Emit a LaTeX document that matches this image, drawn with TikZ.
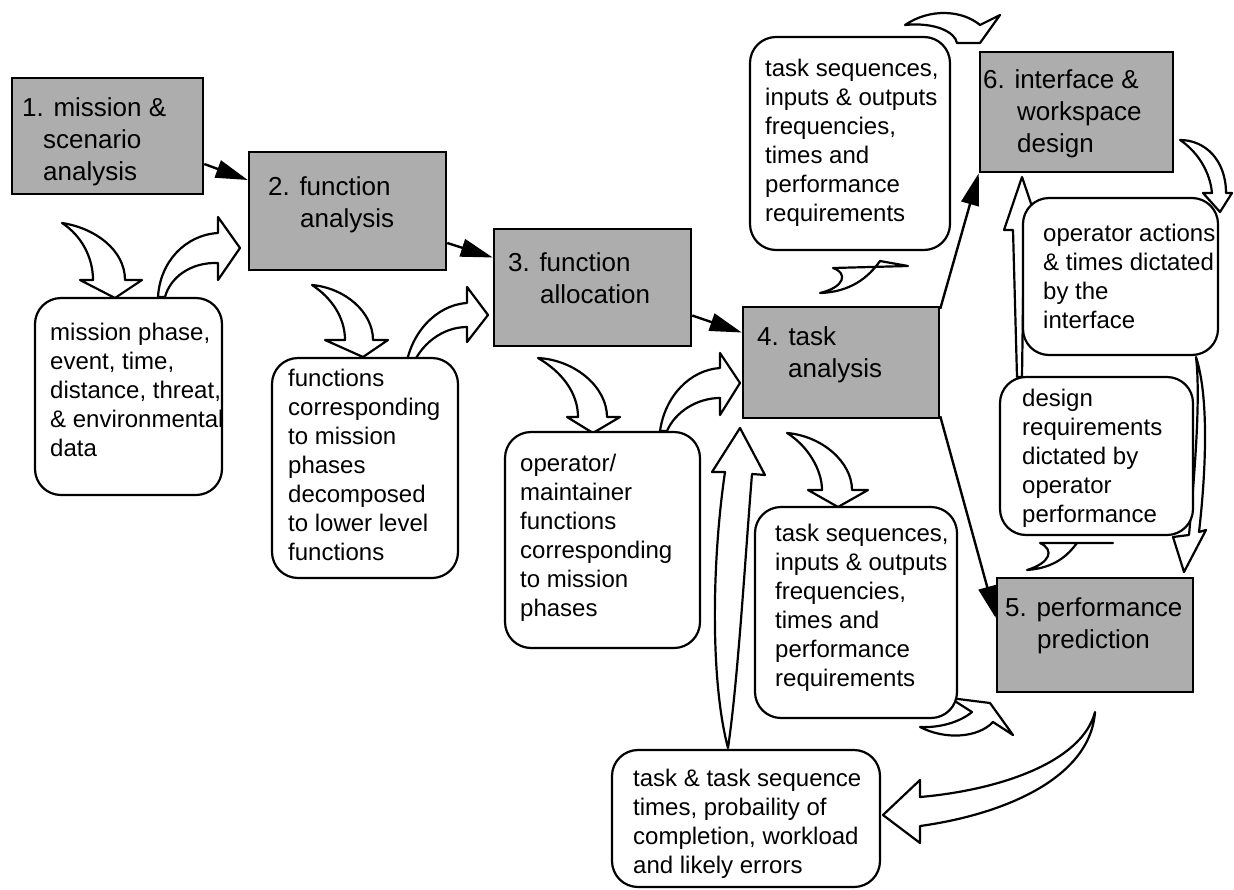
\documentclass[tikz,border=0pt]{standalone}
\usepackage{fontspec}
\setmainfont{Liberation Sans}
\usetikzlibrary{arrows.meta}
\pgfdeclarelayer{back}
\pgfsetlayers{back,main}
\begin{document}
\begin{tikzpicture}[x=1pt,y=-1pt,
  stagebox/.style={draw, line width=2.5pt, fill=black!32, inner sep=0pt},
  notebox/.style={draw, line width=2.2pt, fill=white, rounded corners=26pt, inner sep=0pt},
  stagetext/.style={anchor=north west, inner sep=0pt, align=left, font=\fontsize{26}{32}\selectfont},
  notetext/.style={anchor=north west, inner sep=0pt, align=left, font=\fontsize{24}{29}\selectfont},
  flow/.style={line width=2.4pt, -{Triangle[length=32pt,width=18pt]}},
  bendarrow/.style={draw, line width=2.2pt, fill=white, line join=round}]
\useasboundingbox (0,0) rectangle (1234,889);

% ---- process stages (shaded boxes)
\node[stagebox, minimum width=191pt, minimum height=116pt] (s1) at (107.5,136) {};
\node[stagebox, minimum width=197pt, minimum height=118pt] (s2) at (347.5,211) {};
\node[stagebox, minimum width=197pt, minimum height=117pt] (s3) at (592.5,287.5) {};
\node[stagebox, minimum width=196pt, minimum height=111pt] (s4) at (841,362.5) {};
\node[stagebox, minimum width=196pt, minimum height=114pt] (s5) at (1095,635) {};
\node[stagebox, minimum width=193pt, minimum height=120pt] (s6) at (1076.5,112) {};

\node[stagetext] (s1t) at (22,93.6) {\strut 1. mission \&\\\hspace*{21pt}scenario\\\hspace*{21pt}analysis};
\node[stagetext] (s2t) at (268,172.6) {\strut 2. function\\\hspace*{32pt}analysis};
\node[stagetext] (s3t) at (508,248.6) {\strut 3. function\\\hspace*{32pt}allocation};
\node[stagetext] (s4t) at (757,322.6) {\strut 4. task\\\hspace*{31pt}analysis};
\node[stagetext] (s5t) at (1005,593.6) {\strut 5. performance\\\hspace*{32pt}prediction};
\node[stagetext] (s6t) at (983,65.6) {\strut 6. interface \&\\\hspace*{34pt}workspace\\\hspace*{34pt}design};

% ---- products of each stage (rounded boxes)
\node[notebox, minimum width=187pt, minimum height=197pt] (na) at (128.5,396.5) {};
\node[notebox, minimum width=186pt, minimum height=220pt] (nb) at (365,468) {};
\node[notebox, minimum width=195pt, minimum height=216pt] (nc) at (602.5,540) {};
\node[notebox, minimum width=200pt, minimum height=213pt] (nd) at (850,143.5) {};
\node[notebox, minimum width=195pt, minimum height=157pt] (ne) at (1120.5,276.5) {};
\node[notebox, minimum width=193pt, minimum height=158pt] (nf) at (1096.5,456) {};
\node[notebox, minimum width=202pt, minimum height=211pt] (ng) at (856,612.5) {};
\node[notebox, minimum width=268pt, minimum height=137pt] (nh) at (746,818.5) {};

\node[notetext] (nat) at (50,319.7) {\strut mission phase,\\event, time,\\distance, threat,\\\& environmental\\data};
\node[notetext] (nbt) at (288,365.7) {\strut functions\\corresponding\\to mission\\phases\\decomposed\\to lower level\\functions};
\node[notetext] (nct) at (520,450.7) {\strut operator/\\maintainer\\functions\\corresponding\\to mission\\phases};
\node[notetext] (ndt) at (765,55.7) {\strut task sequences,\\inputs \& outputs\\frequencies,\\times and\\performance\\requirements};
\node[notetext] (net) at (1043,220.7) {\strut operator actions\\\& times dictated\\by the\\interface};
\node[notetext] (nft) at (1022,385.7) {\strut design\\requirements\\dictated by\\operator\\performance};
\node[notetext] (ngt) at (775,520.7) {\strut task sequences,\\inputs \& outputs\\frequencies,\\times and\\performance\\requirements};
\node[notetext] (nht) at (633,765.7) {\strut task \& task sequence\\times, probaility of\\completion, workload\\and likely errors};

% ---- flow between stages
\draw[flow] ([yshift=-28pt]s1.east) -- ([yshift=31pt]s2.west);
\draw[flow] ([yshift=-32pt]s2.east) -- ([yshift=30pt]s3.west);
\draw[flow] ([yshift=-28pt]s3.east) -- ([yshift=30pt]s4.west);
\draw[flow] ([yshift=-3pt]s4.north east) -- (s6.south west);
\draw[flow] ([yshift=3pt]s4.south east) -- ([yshift=17pt]s5.west);

% ---- curved hollow arrows (behind the boxes)
\begin{pgfonlayer}{back}
% 1 -> mission data
\draw[bendarrow] (62,223) .. controls (95,228) and (125,250) .. (125,280) -- (142,280) -- (115,298) -- (80,280) -- (93,280) .. controls (93,258) and (82,236) .. (62,223) -- cycle;
% mission data -> 2
\draw[bendarrow] (158,297) .. controls (160,262) and (185,235) .. (218,233) -- (218,217) -- (240,248) -- (218,280) -- (218,263) .. controls (190,262) and (170,278) .. (165,297) -- cycle;
% 2 -> functions
\draw[bendarrow] (312,285) .. controls (345,288) and (373,312) .. (373,340) -- (388,340) -- (363,357) -- (325,340) -- (345,340) .. controls (345,318) and (332,298) .. (312,285) -- cycle;
% functions -> 3
\draw[bendarrow] (406,367) .. controls (410,335) and (435,305) .. (467,303) -- (467,287) -- (488,315) -- (467,342) -- (467,327) .. controls (442,327) and (420,345) .. (412,367) -- cycle;
% 3 -> operator functions
\draw[bendarrow] (538,358) .. controls (575,360) and (607,387) .. (607,417) -- (620,417) -- (593,433) -- (567,417) -- (578,417) .. controls (578,393) and (562,372) .. (538,358) -- cycle;
% operator functions -> 4
\draw[bendarrow] (660,431) .. controls (665,396) and (690,370) .. (720,368) -- (720,353) -- (740,383) -- (720,415) -- (720,398) .. controls (697,398) and (675,412) .. (667,431) -- cycle;
% 4 -> lower task sequences
\draw[bendarrow] (787,433) .. controls (822,436) and (852,462) .. (852,490) -- (868,490) -- (838,507) -- (808,490) -- (822,490) .. controls (822,470) and (808,446) .. (787,433) -- cycle;
% 4 -> upper task sequences
\draw[bendarrow] (820,293) .. controls (850,292) and (868,278) .. (880,261) -- (908,266) -- (833,268) .. controls (848,273) and (845,287) .. (820,293) -- cycle;
% upper task sequences -> 6
\draw[bendarrow] (905,25) .. controls (930,8) and (962,10) .. (980,25) -- (1000,15) -- (980,43) -- (957,43) .. controls (955,32) and (935,22) .. (905,25) -- cycle;
% 6 -> operator actions
\draw[bendarrow] (1180,140) .. controls (1205,140) and (1226,160) .. (1226,193) -- (1232,193) -- (1220,212) -- (1203,193) -- (1212,193) .. controls (1210,172) and (1198,152) .. (1180,140) -- cycle;
% design requirements -> 6
\draw[bendarrow] (1017,377) -- (1013,230) -- (1004,230) -- (1022,177) -- (1040,230) -- (1024,230) -- (1022,377) -- cycle;
% operator actions -> 5
\draw[bendarrow] (1196,357) .. controls (1210,400) and (1205,480) .. (1199,532) -- (1206,530) -- (1184,572) -- (1173,537) -- (1189,535) .. controls (1194,480) and (1201,400) .. (1196,357) -- cycle;
% 5 -> design requirements
\draw[bendarrow] (1027,570) .. controls (1055,568) and (1068,555) .. (1077,543) -- (1113,543) -- (1040,543) .. controls (1055,550) and (1050,563) .. (1027,570) -- cycle;
% lower task sequences -> 5
\draw[bendarrow] (920,727) .. controls (945,740) and (978,738) .. (993,722) -- (1013,735) -- (990,703) -- (950,698) -- (972,712) .. controls (960,722) and (940,728) .. (920,727) -- cycle;
% 5 -> task times
\draw[bendarrow] (1095,712) .. controls (1090,780) and (1000,815) .. (920,826) -- (920,843) -- (883,815) -- (920,780) -- (920,797) .. controls (1000,790) and (1082,762) .. (1095,712) -- cycle;
% task times -> 4
\draw[bendarrow] (728,748) .. controls (710,680) and (712,560) .. (725,472) -- (712,472) -- (740,428) -- (765,475) -- (752,474) .. controls (745,560) and (738,680) .. (728,748) -- cycle;
\end{pgfonlayer}
\end{tikzpicture}
\end{document}
